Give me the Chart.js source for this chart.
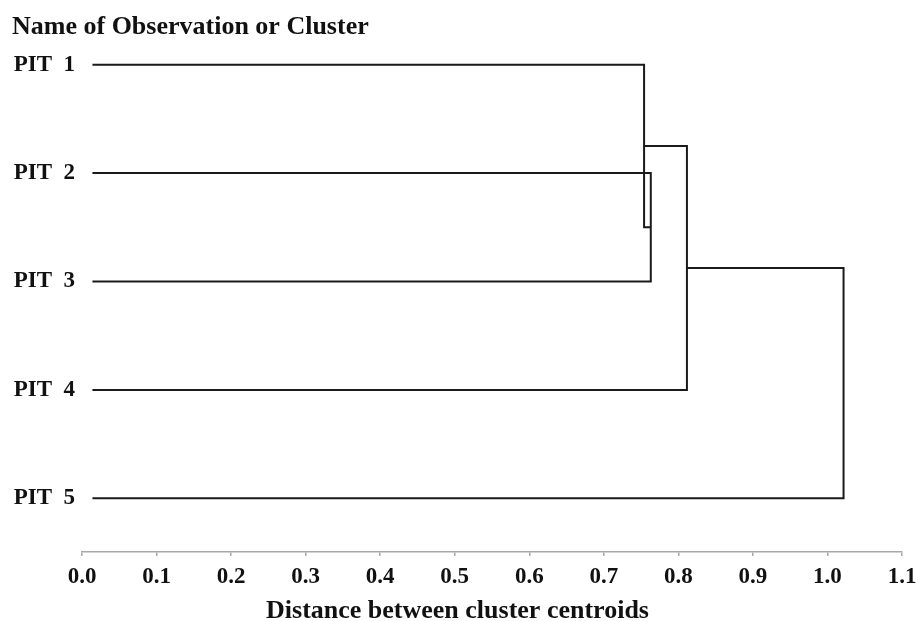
<!DOCTYPE html>
<html>
<head>
<meta charset="utf-8">
<title>Dendrogram</title>
<script src="https://cdn.jsdelivr.net/npm/chart.js@4/dist/chart.umd.min.js"></script>
<style>
  body { margin: 0; background: #fff; }
  canvas { display: block; }
</style>
</head>
<body>
<canvas id="dendro" width="918" height="621"></canvas>
<script>
// =========================
// DATA
// =========================
const leaves = ["PIT  1", "PIT  2", "PIT  3", "PIT  4", "PIT  5"];

// merge steps (index >= leaves.length means a cluster made by an earlier step)
const mergeLeft = [1, 0, 6, 7];
const mergeRight = [2, 5, 3, 4];
const mergeHeight = [0.763, 0.754, 0.8115, 1.0216];

const leafStart = 0.014;
const xTicks = [0.0, 0.1, 0.2, 0.3, 0.4, 0.5, 0.6, 0.7, 0.8, 0.9, 1.0, 1.1];

const xTitle = "Distance between cluster centroids";
const serif = "'Liberation Serif', 'Times New Roman', serif";

// =========================
// BUILD LINKS
// =========================
function buildLinks() {
  const nodes = leaves.map((_, i) => ({ x: leafStart, y: i }));
  const links = [];

  mergeHeight.forEach((h, k) => {
    const a = nodes[mergeLeft[k]];
    const b = nodes[mergeRight[k]];
    links.push([
      { x: a.x, y: a.y },
      { x: h, y: a.y },
      { x: h, y: b.y },
      { x: b.x, y: b.y }
    ]);
    nodes.push({ x: h, y: (a.y + b.y) / 2 });
  });

  return links;
}

// =========================
// X TITLE (centred on the page, not the plot)
// =========================
const bottomTitle = {
  id: "bottomTitle",
  afterDraw(chart) {
    const ctx = chart.ctx;
    ctx.save();
    ctx.font = "bold 26px " + serif;
    ctx.fillStyle = "#111";
    ctx.textAlign = "center";
    ctx.textBaseline = "middle";
    ctx.fillText(xTitle, chart.width / 2 - 1.5, 611);
    ctx.restore();
  }
};

// =========================
// RENDER CHART
// =========================
const datasets = buildLinks().map(pts => ({
  data: pts,
  showLine: true,
  borderColor: "#1a1a1a",
  borderWidth: 2,
  pointRadius: 0,
  fill: false,
  tension: 0
}));

new Chart(document.getElementById("dendro"), {
  type: "scatter",
  data: { datasets },
  plugins: [bottomTitle],
  options: {
    responsive: false,
    animation: false,
    layout: { padding: { left: 12, right: 16, top: 0, bottom: 0 } },
    plugins: {
      legend: { display: false },
      tooltip: { enabled: false },
      title: {
        display: true,
        text: "Name of Observation or Cluster",
        align: "start",
        color: "#111",
        font: { family: serif, size: 26, weight: "bold", lineHeight: 1.2 },
        padding: { top: 12, bottom: 0 }
      }
    },
    scales: {
      x: {
        type: "linear",
        min: 0,
        max: 1.1,
        afterBuildTicks: scale => {
          scale.ticks = xTicks.map(v => ({ value: v }));
        },
        afterFit: scale => {
          scale.height = 69;
          scale.paddingLeft = 0;
          scale.paddingRight = 0;
        },
        border: { display: true, color: "#a8a8a8", width: 1.5 },
        grid: {
          display: true,
          drawOnChartArea: false,
          drawTicks: true,
          tickLength: 4,
          color: "#a8a8a8",
          lineWidth: 1.5
        },
        ticks: {
          autoSkip: false,
          maxRotation: 0,
          padding: 7,
          color: "#111",
          font: { family: serif, size: 23, weight: "bold" },
          callback: v => Number(v).toFixed(1)
        },
        title: { display: false }
      },
      y: {
        type: "linear",
        reverse: true,
        min: -0.198,
        max: 4.495,
        afterBuildTicks: scale => {
          scale.ticks = leaves.map((_, i) => ({ value: i }));
        },
        afterFit: scale => { scale.width = 70; },
        border: { display: false },
        grid: { display: false, drawTicks: false },
        ticks: {
          autoSkip: false,
          padding: 7,
          color: "#111",
          font: { family: serif, size: 23, weight: "bold" },
          callback: v => leaves[v] || ""
        }
      }
    }
  }
});
</script>
</body>
</html>
